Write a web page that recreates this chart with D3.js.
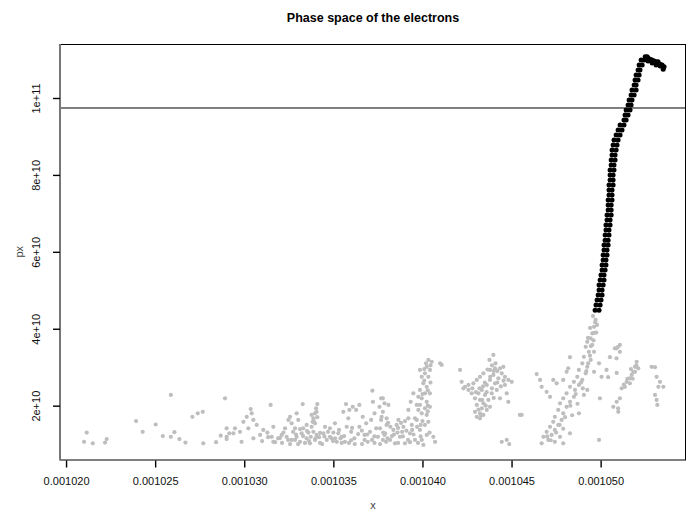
<!DOCTYPE html>
<html>
<head>
<meta charset="utf-8">
<script src="https://cdn.jsdelivr.net/npm/d3@7"></script>
<style>
  body { margin: 0; background: #fff; }
  svg { display: block; font-family: "Liberation Sans", Arial, sans-serif; }
</style>
</head>
<body>
<script>
// x in units of 1e-6, px in units of 1e10
const xTicks = [1020, 1025, 1030, 1035, 1040, 1045, 1050];
const xTickLabels = ['0.001020', '0.001025', '0.001030', '0.001035', '0.001040', '0.001045', '0.001050'];
const yTicks = [2, 4, 6, 8, 10];
const yTickLabels = ['2e+10', '4e+10', '6e+10', '8e+10', '1e+11'];
const refPx = 9.74;

// electrons below the cut (grey)
const greyPoints = [
  [1021.01,1.06],[1021.16,1.30],[1021.50,1.02],[1022.19,1.04],[1022.28,1.13],[1023.93,1.60],[1024.30,1.32],
  [1025.03,1.51],[1025.43,1.21],[1025.88,2.28],[1025.88,1.19],[1026.08,1.31],[1026.36,1.13],[1026.70,1.04],
  [1027.09,1.71],[1027.39,1.80],[1027.67,1.84],[1027.70,1.02],[1028.42,1.05],[1028.68,1.22],[1028.92,2.19],
  [1029.01,1.41],[1029.01,1.13],[1029.16,1.28],
  [1030.36,1.91],[1030.42,1.80],[1030.14,1.71],[1029.95,1.58],[1030.51,1.63],[1030.70,1.50],[1030.23,1.41],
  [1029.48,1.41],[1029.39,1.28],[1029.01,1.19],[1029.76,1.32],[1030.89,1.24],[1030.51,1.15],[1029.85,1.06],
  [1031.07,1.37],[1031.48,2.02],[1031.63,1.45],[1031.54,1.19],[1031.63,1.06],[1032.10,1.24],[1032.29,1.41],
  [1032.48,1.63],[1032.57,1.71],[1032.66,1.54],[1032.94,1.80],[1033.03,1.63],[1032.85,1.41],[1032.38,1.19],
  [1032.66,1.11],[1032.94,1.19],[1033.22,1.28],[1033.13,1.06],[1033.31,1.41],[1033.28,2.04],[1033.50,1.15],
  [1034.10,2.04],[1034.03,1.93],[1033.97,1.80],[1033.88,1.67],[1033.97,1.54],[1033.78,1.45],[1033.88,1.32],
  [1033.73,1.19],[1033.97,1.11],[1033.69,1.02],[1033.84,1.58],[1034.06,1.24],[1033.78,1.76],[1034.06,1.84],
  [1034.44,1.28],[1034.63,1.11],[1034.81,1.41],[1035.09,1.54],[1035.28,1.28],[1035.19,1.06],[1035.47,1.19],
  [1035.75,1.45],[1035.71,2.04],[1035.56,1.84],[1035.90,1.89],[1036.09,1.97],[1036.28,1.89],[1036.46,2.02],
  [1036.00,1.32],[1036.18,1.15],[1036.46,1.45],[1036.65,1.71],[1036.84,1.54],[1036.75,1.24],[1036.93,1.06],
  [1037.19,2.39],[1037.22,2.10],[1037.31,1.80],[1037.40,1.41],[1037.59,1.97],[1037.68,1.63],[1037.78,2.19],
  [1037.87,1.24],[1037.96,1.06],[1037.50,1.19],[1037.12,1.63],[1035.84,1.67],[1035.65,1.06],
  [1032.85,1.11],[1033.41,1.03],[1034.25,1.03],[1034.81,1.19],[1035.47,1.03],[1036.20,1.00],[1036.75,1.11],
  [1037.31,1.03],[1038.04,1.15],[1032.57,1.00],[1032.12,1.03],[1033.13,1.39],[1033.52,1.34],[1034.25,1.29],
  [1034.53,1.45],[1035.32,1.37],
  [1032.46,1.11],[1032.74,1.32],[1033.02,1.00],[1033.30,1.21],[1033.64,1.08],[1034.20,1.18],[1034.37,1.00],
  [1034.70,1.32],[1034.98,1.08],[1035.60,1.21],[1035.88,1.03],[1036.05,1.42],[1036.39,1.26],[1036.61,1.00],
  [1037.06,1.32],[1037.17,1.11],[1037.62,1.00],[1038.29,1.21],[1038.63,1.03],[1038.86,1.32],[1039.19,1.11],
  [1039.42,1.37],[1039.75,1.03],[1038.63,1.42],[1038.07,1.55],[1039.02,1.60],[1032.01,1.16],[1031.73,1.05],
  [1031.34,1.18],[1031.00,1.08],
  [1033.60,1.30],[1034.50,1.20],[1035.00,1.30],[1035.40,1.15],[1036.60,1.35],[1036.90,1.25],[1037.30,1.20],
  [1038.40,1.25],[1038.90,1.20],[1039.10,1.35],[1039.50,1.25],[1039.70,1.45],[1038.80,1.55],[1038.20,1.45],
  [1036.00,1.10],[1035.10,1.15],[1034.00,1.15],[1032.20,1.30],[1031.90,1.15],[1031.30,1.30],[1032.90,1.25],
  [1033.50,1.50],[1033.90,1.60],[1034.10,1.70],[1034.90,1.15],[1037.80,1.30],[1038.60,1.30],[1039.30,1.05],
  [1039.90,1.20],[1040.40,1.30],
  [1037.68,2.19],[1037.87,2.06],[1037.78,1.84],[1038.09,2.02],[1037.99,1.67],[1037.71,1.71],
  [1037.62,1.41],[1037.90,1.28],[1038.18,1.11],[1037.78,1.11],[1038.37,1.37],[1038.65,1.63],[1038.74,1.19],
  [1038.93,1.45],[1039.02,1.02],[1039.21,1.67],[1039.30,1.28],[1039.40,1.50],[1039.58,1.11],[1039.68,1.63],
  [1039.86,1.37],[1039.96,1.11],[1040.14,1.50],[1040.24,1.24],[1038.46,1.02],[1037.99,1.50],[1038.55,1.50],
  [1040.05,0.98],[1040.61,1.19],[1040.71,1.06],[1040.33,1.58],
  [1040.33,3.19],[1040.52,3.14],[1040.24,3.01],[1040.42,2.93],[1040.14,2.84],[1040.33,2.75],[1039.96,2.75],
  [1040.05,2.58],[1040.24,2.49],[1039.86,2.41],[1040.14,2.32],[1039.96,2.19],[1040.24,2.10],[1039.86,2.02],
  [1040.14,1.93],[1039.96,1.80],[1040.24,1.76],[1039.77,1.89],[1039.68,2.02],[1039.77,2.23],[1040.42,2.32],
  [1040.42,1.97],[1040.99,3.10],[1041.08,3.06],[1039.86,2.93],[1039.49,2.32],[1039.34,2.10],[1039.21,1.89],
  [1039.58,1.67],
  [1040.10,2.65],[1040.30,2.40],[1040.00,2.30],[1040.30,2.00],[1040.00,1.60],[1040.30,1.85],[1039.90,1.50],
  [1040.45,2.60],[1040.20,3.10],[1040.45,3.05],[1040.10,2.95],
  [1042.11,2.93],[1042.20,2.62],[1042.39,2.49],[1042.58,2.41],[1042.76,2.32],[1042.95,2.19],[1043.05,2.02],
  [1042.95,1.84],[1043.05,1.71],[1043.23,1.80],[1043.33,1.93],[1043.42,2.06],[1043.23,2.15],[1043.14,2.32],
  [1043.33,2.41],[1043.51,2.28],[1043.70,2.15],[1043.79,1.97],[1043.61,2.54],[1043.79,2.67],[1043.98,2.80],
  [1044.07,2.58],[1044.17,2.41],[1043.89,2.32],[1044.26,2.71],[1044.45,2.84],[1044.63,2.75],[1044.82,2.67],
  [1045.01,2.62],[1044.54,3.01],[1044.35,2.97],[1044.07,2.97],[1043.79,2.93],[1043.98,3.32],[1043.76,3.19],
  [1043.65,2.94],[1043.42,2.84],[1043.23,2.75],[1043.05,2.67],[1042.86,2.58],[1042.58,2.54],[1042.30,2.45],
  [1044.63,2.54],[1044.73,2.32],[1044.82,2.10],[1044.35,2.19],[1045.47,1.76],[1044.73,1.11],[1044.45,1.06],
  [1044.87,1.00],[1043.23,1.67],[1043.42,1.76],[1043.61,1.89],
  [1043.40,2.50],[1043.60,2.35],[1043.90,2.45],[1044.20,2.60],[1044.00,2.20],[1043.50,2.60],[1043.80,2.75],
  [1044.40,2.50],[1043.20,2.45],[1043.00,2.35],[1042.80,2.45],[1043.35,2.15],[1043.55,2.00],[1043.15,1.90],
  [1043.30,1.75],[1044.55,2.65],[1044.20,2.90],[1044.10,3.10],[1043.90,3.05],[1044.00,2.90],
  [1045.57,1.76],[1046.41,2.82],[1046.60,2.67],[1046.69,2.49],[1046.97,2.36],[1047.16,2.23],[1047.34,2.67],
  [1047.53,2.58],[1047.90,2.67],[1048.18,2.97],[1048.28,3.26],[1048.09,2.88],
  [1049.72,4.23],[1049.63,4.05],[1049.53,3.88],[1049.44,3.75],[1049.25,3.66],[1049.53,3.58],[1049.16,3.53],
  [1049.34,3.40],[1049.63,3.40],[1049.06,3.27],[1049.44,3.19],[1048.97,3.10],[1049.25,3.01],[1048.78,2.93],
  [1049.16,2.84],[1048.69,2.75],[1048.97,2.67],[1048.50,2.62],[1048.78,2.54],[1048.28,2.49],[1048.56,2.41],
  [1048.09,2.32],[1048.50,2.23],[1047.90,2.19],[1048.28,2.10],[1047.72,2.06],[1048.09,1.97],[1047.62,1.89],
  [1047.90,1.80],[1047.43,1.71],[1047.81,1.63],[1047.34,1.58],[1047.62,1.50],[1047.16,1.45],[1047.43,1.37],
  [1046.97,1.32],[1047.25,1.24],[1047.72,1.19],[1046.79,1.19],[1047.06,1.11],[1047.43,1.06],[1047.90,1.02],
  [1046.69,1.02],[1048.28,1.28],[1048.78,1.80],[1049.06,2.28],[1049.25,2.41],[1049.63,2.88],[1049.91,3.10],
  [1049.57,4.33],[1049.69,4.17],[1049.41,4.02],[1049.63,3.89],[1049.29,3.76],
  [1047.50,1.30],[1047.70,1.50],[1048.00,1.70],[1048.30,2.00],[1048.60,2.30],[1048.90,2.60],[1049.20,2.90],
  [1049.40,3.30],[1049.60,3.70],[1047.20,1.10],[1047.00,1.20],[1047.90,1.40],[1048.40,1.75],[1048.70,2.05],
  [1049.00,2.45],[1049.30,3.10],[1049.75,3.90],[1049.80,4.10],[1049.45,3.55],
  [1050.80,3.49],[1050.98,3.53],[1051.08,3.40],[1050.52,3.26],[1050.89,3.23],[1050.33,2.93],[1050.05,2.75],
  [1049.96,2.19],[1049.91,1.11],[1050.71,1.97],[1050.98,1.93],[1051.08,2.19],[1050.89,3.49],[1051.08,3.58],
  [1050.99,1.84],[1050.90,2.10],[1050.42,2.74],[1050.90,2.85],
  [1052.02,3.14],[1051.93,3.01],[1051.83,2.88],[1051.74,2.80],[1051.64,2.71],[1051.46,2.62],[1051.36,2.49],
  [1051.18,2.45],[1051.93,2.88],[1052.11,2.97],[1051.64,2.58],[1052.86,3.01],[1053.05,3.00],[1053.14,2.75],
  [1053.33,2.62],[1053.52,2.49],[1053.24,2.49],[1053.05,2.28],[1053.14,2.15],[1053.18,2.02],
  [1051.50,2.70],[1051.70,2.95],[1051.80,2.70],[1051.30,2.55],[1052.00,3.05]
];

// electrons above the cut (black)
const blackPoints = [
  [1049.69,4.48],[1049.91,4.48],[1049.74,4.62],[1049.97,4.62],[1049.80,4.75],[1050.02,4.75],
  [1049.86,4.88],[1050.08,4.88],[1049.91,5.01],[1050.08,5.01],[1049.91,5.14],[1050.14,5.14],
  [1049.97,5.27],[1050.19,5.27],[1050.02,5.40],[1050.19,5.40],[1050.08,5.53],[1050.25,5.53],
  [1050.08,5.66],[1050.30,5.66],[1050.14,5.79],[1050.30,5.79],[1050.14,5.92],[1050.36,5.92],
  [1050.19,6.05],[1050.36,6.05],[1050.19,6.18],[1050.42,6.18],[1050.25,6.30],[1050.42,6.30],
  [1050.25,6.44],[1050.47,6.44],[1050.30,6.57],[1050.47,6.57],[1050.30,6.70],[1050.53,6.70],
  [1050.36,6.83],[1050.53,6.83],[1050.36,6.96],[1050.59,6.96],[1050.42,7.09],[1050.59,7.09],
  [1050.42,7.22],[1050.59,7.22],[1050.42,7.35],[1050.64,7.35],[1050.47,7.48],[1050.64,7.48],
  [1050.47,7.61],[1050.64,7.61],[1050.47,7.74],[1050.70,7.74],[1050.53,7.87],[1050.70,7.87],
  [1050.53,8.00],[1050.70,8.00],[1050.53,8.13],[1050.75,8.13],[1050.59,8.26],[1050.75,8.26],
  [1050.59,8.39],[1050.81,8.39],[1050.64,8.52],[1050.81,8.52],[1050.64,8.65],[1050.87,8.65],
  [1050.70,8.78],[1050.92,8.78],[1050.75,8.91],[1050.98,8.91],[1050.87,9.04],[1051.09,9.04],
  [1050.98,9.17],[1051.20,9.17],[1051.09,9.30],[1051.31,9.30],[1051.31,9.43],[1051.43,9.43],
  [1051.37,9.56],[1051.54,9.56],[1051.43,9.69],[1051.65,9.69],[1051.54,9.82],[1051.71,9.82],
  [1051.60,9.95],[1051.76,9.95],[1051.71,10.08],[1051.88,10.08],[1051.76,10.21],[1051.99,10.21],
  [1051.88,10.34],[1051.99,10.34],[1051.93,10.47],[1052.10,10.47],[1051.99,10.60],[1052.16,10.60],
  [1052.10,10.73],[1052.21,10.73],[1052.16,10.86],[1052.33,10.86],[1052.27,10.99],[1052.44,10.99],
  [1052.50,11.07],[1052.61,11.07],[1052.66,11.04],[1052.77,11.01],[1052.89,10.99],[1053.00,10.96],
  [1053.11,10.94],[1053.22,10.94],[1053.34,10.88],[1053.45,10.86],[1053.56,10.81],[1052.66,10.96],
  [1052.89,10.91],[1053.11,10.86],[1053.34,10.83],[1053.51,10.75]
];

const width = 696;
const height = 513;
const box = {left: 60, right: 686, top: 44, bottom: 459.5};

const x = d3.scaleLinear().domain([1019.66, 1054.79]).range([box.left, box.right]);
const y = d3.scaleLinear().domain([0.60, 11.404]).range([box.bottom, box.top]);

const svg = d3.select('body').append('svg')
    .attr('width', width)
    .attr('height', height);

svg.append('g')
  .selectAll('circle')
  .data(greyPoints)
  .enter().append('circle')
    .attr('cx', d => x(d[0]))
    .attr('cy', d => y(d[1]))
    .attr('r', 2.1)
    .attr('fill', '#bebebe');

svg.append('g')
  .selectAll('circle')
  .data(blackPoints)
  .enter().append('circle')
    .attr('cx', d => x(d[0]))
    .attr('cy', d => y(d[1]))
    .attr('r', 2.5)
    .attr('fill', '#000');

// reference line
svg.append('line')
    .attr('x1', box.left).attr('x2', box.right)
    .attr('y1', y(refPx)).attr('y2', y(refPx))
    .attr('stroke', '#000');

// plot box
svg.append('rect')
    .attr('x', box.left + 0.5).attr('y', box.top + 0.5)
    .attr('width', box.right - box.left - 1).attr('height', box.bottom - box.top)
    .attr('fill', 'none')
    .attr('stroke', '#000');
svg.append('line')
    .attr('x1', box.left).attr('x2', box.left)
    .attr('y1', box.top).attr('y2', box.bottom + 1)
    .attr('stroke', '#777').attr('stroke-width', 2);

const xAxis = svg.append('g')
    .attr('transform', `translate(0,${box.bottom + 1})`)
    .call(d3.axisBottom(x).tickValues(xTicks)
      .tickFormat((d, i) => xTickLabels[i]).tickSize(7).tickPadding(10));
xAxis.select('.domain').remove();

const yAxis = svg.append('g')
    .attr('transform', `translate(${box.left},0)`)
    .call(d3.axisLeft(y).tickValues(yTicks)
      .tickFormat((d, i) => yTickLabels[i]).tickSize(7));
yAxis.select('.domain').remove();
yAxis.selectAll('.tick text')
    .attr('transform', 'rotate(-90)')
    .attr('text-anchor', 'middle')
    .attr('x', 0)
    .attr('y', -20)
    .attr('dy', '0');

svg.selectAll('.tick line').attr('stroke', '#000').attr('stroke-width', 1.4);
svg.selectAll('.tick text')
    .attr('fill', '#111')
    .style('font-size', '11px')
    .style('font-family', '"Liberation Sans", Arial, sans-serif');

svg.append('text')
    .attr('x', (box.left + box.right) / 2)
    .attr('y', 22)
    .attr('text-anchor', 'middle')
    .style('font-size', '12.5px')
    .style('font-weight', 'bold')
    .text('Phase space of the electrons');

svg.append('text')
    .attr('x', (box.left + box.right) / 2)
    .attr('y', 509)
    .attr('text-anchor', 'middle')
    .attr('fill', '#444')
    .style('font-size', '11px')
    .text('x');

svg.append('text')
    .attr('transform', `translate(23,${(box.top + box.bottom) / 2}) rotate(-90)`)
    .attr('text-anchor', 'middle')
    .attr('fill', '#444')
    .style('font-size', '11px')
    .text('px');
</script>
</body>
</html>
